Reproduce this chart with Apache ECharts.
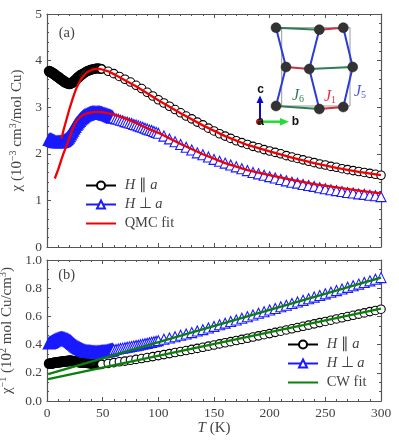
<!DOCTYPE html>
<html>
<head>
<meta charset="utf-8">
<style>html,body{margin:0;padding:0;background:#fff}#main{width:399px;height:441px}</style>
<script src="https://cdn.jsdelivr.net/npm/echarts@6/dist/echarts.min.js"></script>
</head>
<body>
<div id="main"></div>
<script>
var tPar = [2,3,4,5,6,7,8,9,10,11,12,13,14,15,16,17,18,19,20,21,22,23,24,25,26,27,28,29,30,
  31,32,33,34,35,36,37,38,39,40,41,42,43,44,45,46,47,48,49,
  55,60,65,70,75,80,85,90,95,100,105,110,115,120,125,130,135,140,145,150,155,160,165,170,175,180,185,190,195,200,
  205,210,215,220,225,230,235,240,245,250,255,260,265,270,275,280,285,290,295,300];
var chiPar = [3.77,3.76,3.75,3.73,3.72,3.70,3.68,3.66,3.65,3.63,3.61,3.59,3.58,3.56,3.54,3.53,3.52,3.51,3.50,3.51,3.52,3.53,3.55,3.57,3.59,3.62,3.64,3.66,3.68,
  3.70,3.71,3.73,3.74,3.76,3.77,3.78,3.79,3.80,3.81,3.81,3.82,3.82,3.83,3.83,3.83,3.83,3.82,3.82,
  3.77,3.72,3.66,3.60,3.54,3.47,3.40,3.32,3.24,3.16,3.09,3.02,2.95,2.88,2.81,2.75,2.68,2.62,2.55,2.49,2.43,2.38,2.33,2.28,2.24,2.20,2.16,2.13,2.09,2.06,
  2.03,2.00,1.96,1.93,1.90,1.87,1.84,1.81,1.78,1.76,1.73,1.71,1.68,1.66,1.64,1.62,1.60,1.58,1.56,1.54];
var invPar = [0.265,0.265,0.267,0.268,0.27,0.272,0.273,0.274,0.275,0.276,0.277,0.278,0.279,0.28,0.281,0.282,0.283,0.284,0.285,0.285,0.284,0.283,0.282,0.281,0.28,0.279,0.278,0.276,0.275,
  0.274,0.272,0.271,0.27,0.269,0.268,0.267,0.266,0.265,0.264,0.263,0.262,0.262,0.261,0.261,0.261,0.261,0.261,0.261,
  0.267,0.272,0.278,0.283,0.289,0.295,0.301,0.308,0.315,0.322,0.329,0.336,0.344,0.351,0.358,0.366,0.373,0.381,0.389,0.397,0.405,0.413,0.421,0.429,0.437,0.445,0.454,0.462,0.47,0.478,
  0.487,0.495,0.504,0.512,0.521,0.53,0.538,0.547,0.556,0.564,0.573,0.582,0.59,0.599,0.608,0.616,0.625,0.634,0.642,0.651];

var tPerp = [2,3,4,5,6,7,8,9,10,11,12,13,14,15,16,17,18,19,20,21,22,23,24,25,26,27,28,29,30,31,32,33,34,35,36,37,38,39,40,41,42,43,44,45,46,47,48,49,50,51,52,53,54,55,56,57,58,59,60,
  62,64,66,68,70,72,74,76,78,80,82,84,86,88,90,92,94,96,98,100,
  105,110,115,120,125,130,135,140,145,150,155,160,165,170,175,180,185,190,195,200,
  205,210,215,220,225,230,235,240,245,250,255,260,265,270,275,280,285,290,295,300];
var chiPerp = [2.30,2.30,2.29,2.28,2.27,2.26,2.25,2.25,2.25,2.25,2.25,2.25,2.26,2.27,2.28,2.30,2.32,2.35,2.38,2.42,2.46,2.50,2.54,2.58,2.62,2.65,2.68,2.71,2.74,2.76,2.78,2.80,2.82,2.83,2.84,2.85,2.86,2.87,2.87,2.88,2.88,2.88,2.88,2.88,2.88,2.88,2.87,2.87,2.86,2.85,2.85,2.84,2.83,2.82,2.81,2.80,2.79,2.78,2.77,
  2.75,2.74,2.72,2.71,2.69,2.68,2.66,2.65,2.63,2.62,2.60,2.58,2.57,2.55,2.53,2.51,2.50,2.48,2.46,2.44,
  2.38,2.32,2.26,2.20,2.14,2.08,2.02,1.98,1.93,1.88,1.84,1.80,1.76,1.72,1.68,1.64,1.60,1.57,1.54,1.51,
  1.48,1.45,1.42,1.39,1.37,1.34,1.32,1.30,1.27,1.25,1.23,1.21,1.19,1.17,1.16,1.14,1.13,1.11,1.10,1.08];
var invPerp = [0.41,0.412,0.415,0.42,0.425,0.43,0.433,0.436,0.44,0.442,0.444,0.444,0.443,0.442,0.44,0.437,0.434,0.43,0.425,0.42,0.413,0.406,0.40,0.393,0.387,0.381,0.376,0.372,0.368,0.364,0.36,0.357,0.355,0.353,0.351,0.35,0.349,0.348,0.347,0.347,0.346,0.346,0.346,0.346,0.346,0.347,0.347,0.348,0.349,0.35,0.351,0.352,0.354,0.355,0.357,0.358,0.36,0.362,0.363,
  0.366,0.369,0.372,0.375,0.378,0.381,0.384,0.387,0.39,0.393,0.396,0.399,0.402,0.406,0.409,0.413,0.416,0.42,0.424,0.428,
  0.438,0.447,0.456,0.466,0.475,0.485,0.496,0.506,0.518,0.529,0.541,0.552,0.564,0.575,0.587,0.598,0.61,0.622,0.633,0.645,
  0.656,0.668,0.679,0.691,0.702,0.714,0.725,0.737,0.748,0.76,0.771,0.783,0.794,0.806,0.817,0.829,0.84,0.852,0.863,0.875];

var tFitPar = [13,15,18,20,23,25,27,30,33,36,40,44,48,55,60,70,80,90,100,120,140,160,180,200,220,240,260,280,300];
var qmcPar = [2.33,2.52,2.78,2.95,3.18,3.32,3.44,3.58,3.68,3.75,3.80,3.82,3.82,3.77,3.71,3.58,3.45,3.30,3.15,2.87,2.61,2.38,2.19,2.05,1.92,1.80,1.70,1.61,1.54];
var tFitPerp = [7,10,13,15,18,20,23,25,27,30,33,36,40,44,48,55,60,70,80,90,100,120,140,160,180,200,220,240,260,280,300];
var qmcPerp = [1.47,1.66,1.88,2.02,2.20,2.33,2.53,2.64,2.72,2.79,2.84,2.87,2.89,2.90,2.90,2.87,2.84,2.76,2.66,2.55,2.45,2.21,1.99,1.80,1.65,1.54,1.44,1.35,1.28,1.21,1.15];

var tCw = [1,300];
var cwPar = [0.155,0.655];
var cwPerp = [0.19,0.875];

var nameParallel = 'H ∥ a';
var namePerp = 'H ⊥ a';

function zip(xs, ys) {
  return xs.map(function (x, i) { return [x, ys[i]]; });
}

// low T points sit so close they read as a solid band, so their outline is heavier
function dense(xs, ys, solidBelow, stripeBelow) {
  return xs.map(function (x, i) {
    var w = x < solidBelow ? 2.4 : x < stripeBelow ? 1.5 : 1.1;
    return {value: [x, ys[i]], itemStyle: {borderWidth: w}};
  });
}

var myChart = echarts.init(document.getElementById('main'));

var serif = 'Liberation Serif';
var ink = '#444';
var frame = '#555';

var richText = {
  i: {fontStyle: 'italic', fontFamily: serif, fontSize: 15, color: ink},
  sup: {fontSize: 10, fontFamily: serif, color: ink, verticalAlign: 'bottom', padding: [0, 0, 6, 0]}
};

function axis(grid, pos, max, interval, split, labels, extra) {
  var a = {
    type: 'value', gridIndex: grid, position: pos, min: 0, max: max, interval: interval,
    axisLine: {show: true, onZero: false, lineStyle: {color: frame, width: 1.2}},
    axisTick: {show: true, inside: true, length: 4, lineStyle: {color: frame, width: 1}},
    minorTick: {show: true, splitNumber: split, length: 2, lineStyle: {color: frame, width: 1}},
    splitLine: {show: false},
    axisLabel: {show: labels, color: ink, fontFamily: serif, fontSize: 13.5, margin: 5,
      showMinLabel: true, showMaxLabel: true,
      formatter: function (v) { return extra && extra.fixed ? v.toFixed(1) : String(v); }}
  };
  if (extra && extra.name) {
    a.name = extra.name;
    a.nameLocation = 'middle';
    a.nameGap = extra.gap;
    a.nameTextStyle = {color: ink, fontFamily: serif, fontSize: 15, rich: richText};
  }
  return a;
}

function legendFor(names, fitName, left, top) {
  var items = names.map(function (n) { return {name: n}; });
  items.push({name: fitName, itemStyle: {opacity: 0}});
  return {
    data: items, left: left, top: top, padding: 0, orient: 'vertical', itemWidth: 30, itemHeight: 10, itemGap: 4,
    selectedMode: false,
    textStyle: {color: ink, fontFamily: serif, fontSize: 14.5,
      rich: {i: {fontStyle: 'italic', fontFamily: serif, fontSize: 14.5, color: ink}}},
    formatter: function (n) {
      if (n === nameParallel) return ' {i|H} ∥ {i|a}';
      if (n === namePerp) return ' {i|H} ⊥ {i|a}';
      return ' ' + n;
    }
  };
}

function markers(name, grid, data, sym, col, size) {
  return {
    name: name, type: 'line', xAxisIndex: grid, yAxisIndex: grid, data: data,
    symbol: sym, symbolSize: size, showSymbol: true, showAllSymbol: true, clip: false,
    animation: false, z: 2,
    lineStyle: {color: col, width: 1.3},
    itemStyle: {color: '#fff', borderColor: col, borderWidth: 1.1}
  };
}

function fit(name, grid, data, col, width) {
  return {
    name: name, type: 'line', xAxisIndex: grid, yAxisIndex: grid, data: data,
    symbol: 'none', animation: false, z: 5,
    lineStyle: {color: col, width: width},
    itemStyle: {color: col}
  };
}

// inset: crystal structure sketch
var atomsInset = [[276,27.7],[319.3,29.7],[343.3,27.7],[286,67],[309.3,69],[352.7,67],[276,106],[319.3,109],[343.3,107]];
var bondsBlue = [[0,3],[3,6],[1,4],[4,7],[2,5],[5,8]];
var bondsGreen = [[0,1],[4,5],[6,7]];
var bondsRed = [[1,2],[3,4],[7,8]];

function bondLines(pairs, col) {
  return pairs.map(function (p) {
    var a = atomsInset[p[0]], b = atomsInset[p[1]];
    return {type: 'line', z: 20, shape: {x1: a[0], y1: a[1], x2: b[0], y2: b[1]}, style: {stroke: col, lineWidth: 2}};
  });
}

function label(x, y, text, opts) {
  return {type: 'text', x: x, y: y, z: 30, style: Object.assign({text: text, fill: ink, font: '14.5px "Liberation Serif"', align: 'center', verticalAlign: 'middle'}, opts || {})};
}

function jLabel(x, y, sub, col) {
  return {type: 'text', x: x, y: y, z: 30, style: {
    text: '{j|J}{s|' + sub + '}', align: 'center', verticalAlign: 'middle',
    rich: {
      j: {font: 'italic 16px "Liberation Serif"', fill: col},
      s: {font: '10px "Liberation Serif"', fill: col, verticalAlign: 'bottom', padding: [7, 0, 0, 0]}
    }
  }};
}

var graphics = [
  label(66.7, 33, '(a)'),
  label(66.7, 275, '(b)'),
  {type: 'polyline', z: 19, shape: {points: [[350,27.7],[281.7,27.7],[281.7,106],[350,106],[350,27.7]]}, style: {stroke: '#999', lineWidth: 1, fill: null}}
];
graphics = graphics.concat(bondLines(bondsBlue, '#2b3bd6'), bondLines(bondsGreen, '#2f7d55'), bondLines(bondsRed, '#c8323c'));
atomsInset.forEach(function (a) {
  graphics.push({type: 'circle', z: 22, shape: {cx: a[0], cy: a[1], r: 5}, style: {fill: '#333', stroke: '#222', lineWidth: 0.5}});
});
graphics.push(
  {type: 'line', z: 23, shape: {x1: 260, y1: 121.7, x2: 260, y2: 102}, style: {stroke: '#0a0ac8', lineWidth: 2}},
  {type: 'polygon', z: 23, shape: {points: [[256.5,103],[263.5,103],[260,95.5]]}, style: {fill: '#0a0ac8'}},
  {type: 'line', z: 23, shape: {x1: 260, y1: 121.7, x2: 282, y2: 121.7}, style: {stroke: '#22dd33', lineWidth: 2.5}},
  {type: 'polygon', z: 23, shape: {points: [[280,118],[280,125.5],[289,121.7]]}, style: {fill: '#22dd33'}},
  {type: 'circle', z: 24, shape: {cx: 259, cy: 121.7, r: 3}, style: {fill: '#a02020'}},
  label(260.5, 89.5, 'c', {font: 'bold 12px "Liberation Sans"', fill: '#111'}),
  label(260.5, 122, 'a', {font: 'bold 12px "Liberation Sans"', fill: '#111'}),
  label(295.5, 121.7, 'b', {font: 'bold 12px "Liberation Sans"', fill: '#111'}),
  jLabel(298, 96, '6', '#2f7d55'),
  jLabel(330, 97, '1', '#e8313c'),
  jLabel(360, 92, '5', '#4a55e0')
);

var option = {
  animation: false,
  backgroundColor: '#fff',
  grid: [
    {left: 47, right: 18, top: 14, height: 233, outerBoundsMode: 'none'},
    {left: 47, right: 18, top: 260, height: 141, outerBoundsMode: 'none'}
  ],
  xAxis: [
    axis(0, 'bottom', 300, 50, 5, false),
    axis(1, 'bottom', 300, 50, 5, true, {name: '{i|T} (K)', gap: 20}),
    axis(0, 'top', 300, 50, 5, false),
    axis(1, 'top', 300, 50, 5, false)
  ],
  yAxis: [
    axis(0, 'left', 5, 1, 5, true, {name: 'χ (10{sup|−3} cm{sup|3}/mol Cu)', gap: 19}),
    axis(1, 'left', 1, 0.2, 3, true, {fixed: true, name: 'χ{sup|−1} (10{sup|2} mol Cu/cm{sup|3})', gap: 29}),
    axis(0, 'right', 5, 1, 5, false),
    axis(1, 'right', 1, 0.2, 3, false)
  ],
  legend: [
    legendFor([nameParallel, namePerp], 'QMC fit', 85, 178),
    legendFor([nameParallel, namePerp], 'CW fit', 287, 337)
  ],
  graphic: graphics,
  series: [
    markers(nameParallel, 0, dense(tPar, chiPar, 32, 50), 'circle', '#000', 8.5),
    markers(namePerp, 0, dense(tPerp, chiPerp, 60, 60), 'triangle', '#1a1aff', 10),
    fit('QMC fit', 0, zip(tFitPar, qmcPar), '#f00000', 2.3),
    fit('QMC fit', 0, zip(tFitPerp, qmcPerp), '#f00000', 2.3),
    markers(nameParallel, 1, dense(tPar, invPar, 32, 50), 'circle', '#000', 8.5),
    markers(namePerp, 1, dense(tPerp, invPerp, 60, 60), 'triangle', '#1a1aff', 10),
    fit('CW fit', 1, zip(tCw, cwPar), '#0a800a', 2.3),
    fit('CW fit', 1, zip(tCw, cwPerp), '#0a800a', 2.3)
  ]
};

myChart.setOption(option);
</script>
</body>
</html>
